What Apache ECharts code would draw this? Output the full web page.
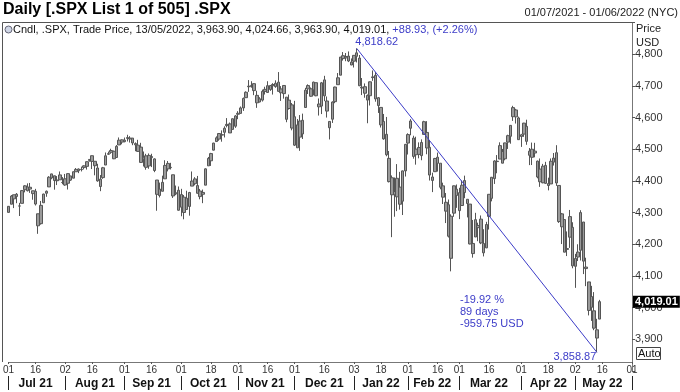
<!DOCTYPE html>
<html><head><meta charset="utf-8">
<script src="https://cdn.jsdelivr.net/npm/echarts@6/dist/echarts.min.js"></script>
<style>html,body{margin:0;padding:0;background:#fff}#c{width:680px;height:392px}</style>
</head><body><div id="c"></div>
<script>
// Trading-day categories (Jul 2021 .. 01 Jun 2022), per month
const monthKeys = ['2021-07','2021-08','2021-09','2021-10','2021-11','2021-12','2022-01','2022-02','2022-03','2022-04','2022-05','2022-06'];
const monthNames = ['Jul 21','Aug 21','Sep 21','Oct 21','Nov 21','Dec 21','Jan 22','Feb 22','Mar 22','Apr 22','May 22',''];
const monthDays = [
 [1,2,6,7,8,9,12,13,14,15,16,19,20,21,22,23,26,27,28,29,30],
 [2,3,4,5,6,9,10,11,12,13,16,17,18,19,20,23,24,25,26,27,30,31],
 [1,2,3,7,8,9,10,13,14,15,16,17,20,21,22,23,24,27,28,29,30],
 [1,4,5,6,7,8,11,12,13,14,15,18,19,20,21,22,25,26,27,28,29],
 [1,2,3,4,5,8,9,10,11,12,15,16,17,18,19,22,23,24,26,29,30],
 [1,2,3,6,7,8,9,10,13,14,15,16,17,20,21,22,23,27,28,29,30,31],
 [3,4,5,6,7,10,11,12,13,14,18,19,20,21,24,25,26,27,28,31],
 [1,2,3,4,7,8,9,10,11,14,15,16,17,18,22,23,24,25,28],
 [1,2,3,4,7,8,9,10,11,14,15,16,17,18,21,22,23,24,25,28,29,30,31],
 [1,4,5,6,7,8,11,12,13,14,18,19,20,21,22,25,26,27,28,29],
 [2,3,4,5,6,9,10,11,12,13,16,17,18,19,20,23,24,25,26,27,31],
 [1]
];
// Day tick labels on the axis
const tickDates = ['2021-07-01','2021-07-16','2021-08-02','2021-08-16','2021-09-01','2021-09-16','2021-10-01','2021-10-18','2021-11-01','2021-11-16','2021-12-01','2021-12-16','2022-01-03','2022-01-18','2022-02-01','2022-02-16','2022-03-01','2022-03-16','2022-04-01','2022-04-18','2022-05-02','2022-05-16','2022-06-01'];
const yTicks = [3900,4000,4100,4200,4300,4400,4500,4600,4700,4800];

// OHLC, 01 Jul 2021 .. 13 May 2022
const openP = [4300.73,4326.60,4356.46,4351.01,4321.07,4329.38,4372.41,4381.07,4380.11,4369.02,4367.43,4296.40,4265.11,4331.13,4361.27,4381.20,4409.58,4416.38,4402.95,4403.59,4395.12,
4406.86,4392.74,4415.95,4408.86,4429.07,4437.77,4435.79,4442.18,4446.08,4464.84,4461.65,4462.12,4440.94,4382.44,4410.56,4450.29,4484.40,4490.45,4493.75,4474.10,4513.76,4529.75,
4528.80,4534.48,4532.42,4535.38,4518.09,4513.02,4506.92,4474.81,4479.33,4447.49,4477.09,4469.74,4402.95,4374.45,4367.43,4406.75,4438.04,4442.12,4419.54,4362.41,4370.67,
4317.16,4348.84,4309.87,4319.57,4383.73,4406.51,4385.44,4368.31,4358.01,4386.75,4447.69,4463.72,4497.34,4524.42,4532.24,4546.12,4553.69,4578.69,4580.22,4562.84,4572.87,
4610.62,4613.34,4630.65,4662.93,4699.26,4701.48,4707.25,4670.26,4659.39,4655.24,4689.30,4679.42,4701.50,4700.72,4708.44,4712.00,4678.48,4675.78,4664.63,4628.75,4640.25,
4602.82,4504.73,4589.49,4548.37,4631.97,4690.86,4691.00,4687.64,4710.30,4642.99,4636.46,4719.13,4652.50,4587.90,4594.96,4650.36,4703.96,4733.99,4795.49,4788.64,4794.23,4775.21,
4778.14,4804.51,4787.99,4693.39,4697.66,4655.34,4669.14,4728.59,4733.56,4637.99,4632.24,4588.03,4547.35,4471.38,4356.32,4366.64,4408.43,4380.58,4336.19,4431.79,
4519.57,4566.39,4535.41,4482.79,4505.75,4480.02,4547.00,4553.24,4506.27,4412.61,4429.28,4455.75,4456.06,4384.57,4332.74,4324.93,4155.77,4298.38,4354.17,
4363.14,4322.56,4401.31,4342.12,4327.01,4202.66,4223.10,4252.55,4279.50,4202.75,4188.82,4288.14,4345.11,4407.34,4462.40,4469.10,4493.10,4469.98,4522.66,4541.09,4602.86,4624.20,4599.02,
4540.32,4547.97,4572.45,4494.17,4474.65,4494.15,4462.64,4437.59,4394.30,4449.12,4385.63,4390.63,4472.26,4489.17,4385.83,4255.34,4278.14,4186.52,4222.58,4253.75,
4130.61,4159.78,4181.18,4270.43,4128.17,4081.27,4035.18,3990.08,3903.95,3963.90];
const highP = [4320.66,4355.43,4356.46,4361.88,4330.88,4371.60,4386.68,4392.37,4393.68,4369.02,4375.09,4296.40,4336.84,4359.70,4369.87,4415.18,4422.73,4416.38,4415.47,4429.97,4412.25,
4422.18,4423.79,4416.17,4429.76,4440.82,4439.39,4445.21,4449.44,4461.77,4468.37,4480.26,4462.12,4454.32,4418.61,4444.35,4489.88,4492.81,4501.71,4495.90,4513.33,4537.36,4531.39,
4537.11,4545.85,4541.45,4535.38,4521.79,4529.90,4520.47,4492.99,4485.68,4486.87,4485.87,4471.52,4402.95,4394.87,4416.75,4465.40,4463.12,4457.30,4419.54,4385.57,4382.55,
4375.19,4355.51,4369.23,4365.57,4429.97,4412.02,4415.88,4374.89,4372.87,4439.73,4475.82,4488.75,4520.40,4540.87,4551.44,4559.67,4572.62,4598.53,4584.57,4597.55,4608.08,
4620.34,4635.15,4663.46,4683.00,4718.50,4714.92,4708.53,4684.85,4664.55,4688.47,4697.42,4714.95,4701.50,4708.80,4717.75,4743.83,4699.39,4702.87,4664.63,4672.95,4646.02,
4652.94,4595.46,4608.03,4612.60,4694.04,4705.06,4695.26,4713.57,4710.30,4660.47,4712.60,4731.99,4666.70,4587.90,4651.14,4697.67,4740.74,4791.49,4807.02,4804.06,4808.93,4786.83,
4796.64,4818.62,4797.70,4725.01,4707.95,4673.02,4714.13,4748.83,4744.13,4665.13,4632.24,4611.55,4602.11,4494.52,4417.35,4411.01,4453.23,4428.74,4432.72,4516.89,
4550.49,4595.31,4542.88,4539.66,4521.86,4531.32,4590.03,4588.92,4526.33,4426.22,4472.77,4489.55,4456.06,4394.60,4362.12,4341.51,4294.73,4385.34,4388.84,
4378.45,4401.48,4416.78,4342.12,4327.01,4276.94,4299.40,4268.28,4291.01,4247.57,4271.05,4357.86,4412.67,4465.40,4481.75,4522.00,4501.07,4520.58,4546.03,4575.65,4637.30,4627.77,4603.07,
4548.70,4583.50,4593.45,4503.94,4521.16,4520.41,4464.35,4471.00,4453.92,4460.46,4410.31,4471.03,4488.29,4512.94,4385.83,4299.02,4278.14,4240.71,4308.45,4269.68,
4169.81,4200.10,4307.66,4270.43,4157.69,4081.27,4068.82,4049.09,3964.80,4024.66];
const lowP = [4300.73,4326.60,4314.37,4329.79,4289.37,4329.38,4364.03,4366.92,4362.36,4340.70,4322.53,4233.13,4262.05,4331.13,4350.06,4381.20,4405.45,4372.51,4387.01,4403.59,4389.65,
4384.81,4373.00,4400.23,4408.86,4429.07,4424.74,4430.03,4436.42,4435.96,4460.82,4437.66,4417.83,4397.59,4367.73,4406.80,4450.29,4482.28,4485.66,4468.99,4474.10,4513.76,4515.80,
4522.02,4524.66,4521.30,4513.00,4493.95,4492.07,4457.66,4445.70,4435.46,4438.37,4443.80,4427.76,4305.91,4347.96,4367.43,4406.75,4430.27,4436.19,4346.33,4355.08,4306.24,
4288.52,4278.94,4309.87,4290.49,4383.73,4386.22,4360.59,4342.09,4329.92,4386.75,4447.69,4447.47,4496.41,4524.40,4526.89,4524.00,4537.36,4569.17,4551.66,4562.84,4567.59,
4595.06,4613.34,4621.19,4662.59,4681.32,4694.39,4670.87,4630.86,4648.31,4650.77,4672.86,4679.42,4684.41,4672.78,4694.22,4682.17,4652.66,4659.89,4585.43,4625.26,4560.00,
4510.27,4504.73,4495.12,4532.46,4631.97,4674.52,4665.98,4670.24,4667.60,4606.52,4611.22,4651.89,4600.22,4531.10,4583.16,4645.53,4703.96,4733.99,4780.04,4778.08,4775.33,4765.75,
4758.17,4774.27,4699.44,4671.26,4662.74,4582.24,4638.27,4716.09,4650.29,4614.75,4568.70,4530.20,4477.95,4395.34,4222.62,4287.11,4304.80,4309.50,4292.46,4414.02,
4483.53,4544.32,4470.39,4451.50,4471.47,4465.40,4547.00,4484.31,4401.41,4364.84,4429.28,4429.68,4373.81,4327.22,4267.11,4221.51,4114.65,4286.83,4315.12,
4279.54,4322.56,4345.56,4284.98,4199.85,4157.87,4223.10,4209.80,4200.49,4161.72,4187.90,4246.66,4335.65,4390.57,4424.30,4469.10,4455.81,4465.17,4501.07,4517.69,4589.66,4581.32,4530.41,
4507.57,4539.21,4514.17,4450.04,4450.30,4474.60,4408.38,4381.34,4392.70,4390.77,4370.30,4390.63,4448.76,4384.47,4267.62,4200.82,4175.04,4162.90,4188.63,4124.28,
4062.51,4147.08,4148.91,4106.01,4067.91,3975.48,3958.17,3928.82,3858.87,3963.90];
const closeP = [4319.94,4352.34,4343.54,4358.13,4320.82,4369.55,4384.63,4369.21,4374.30,4360.03,4327.16,4258.49,4323.06,4358.69,4367.48,4411.79,4422.30,4401.46,4400.64,4419.15,4395.26,
4387.16,4423.15,4402.66,4429.10,4436.52,4432.35,4436.75,4447.70,4460.83,4468.00,4479.71,4448.08,4400.27,4405.80,4441.67,4479.53,4486.23,4496.19,4470.00,4509.37,4528.79,4522.68,
4524.09,4536.95,4535.43,4520.03,4514.07,4493.28,4458.58,4468.73,4443.05,4480.70,4473.75,4432.99,4357.73,4354.19,4395.64,4448.98,4455.48,4443.11,4352.63,4359.46,4307.54,
4357.04,4300.46,4345.72,4363.55,4399.76,4391.34,4361.19,4350.65,4363.80,4438.26,4471.37,4486.46,4519.63,4536.19,4549.78,4544.90,4566.48,4574.79,4551.68,4596.42,4605.38,
4613.67,4630.65,4660.57,4680.06,4697.53,4701.70,4685.25,4646.71,4649.27,4682.85,4682.80,4700.90,4688.67,4704.54,4697.96,4682.94,4690.70,4701.46,4594.62,4655.27,4567.00,
4513.04,4577.10,4538.43,4591.67,4686.75,4701.21,4667.45,4712.02,4668.97,4634.09,4709.85,4668.67,4620.64,4568.02,4649.23,4696.56,4725.79,4791.19,4786.35,4793.06,4778.73,4766.18,
4796.56,4793.54,4700.58,4696.05,4677.03,4670.29,4713.07,4726.35,4659.03,4662.85,4577.11,4532.76,4482.73,4397.94,4410.13,4356.45,4349.93,4326.51,4431.85,4515.55,
4546.54,4589.38,4477.44,4500.53,4483.87,4521.54,4587.18,4504.08,4418.64,4401.67,4471.07,4475.01,4380.26,4348.87,4304.76,4225.50,4288.70,4384.65,4373.94,
4306.26,4386.54,4363.49,4328.87,4201.09,4170.70,4277.88,4259.52,4204.31,4173.11,4262.45,4357.86,4411.67,4463.12,4461.18,4511.61,4456.24,4520.16,4543.06,4575.52,4631.60,4602.45,4530.41,
4545.86,4582.64,4525.12,4481.15,4500.21,4488.28,4412.53,4397.45,4446.59,4392.59,4391.69,4462.21,4459.45,4393.66,4271.78,4296.12,4175.20,4183.96,4287.50,4131.93,
4155.38,4175.48,4300.17,4146.87,4123.34,3991.24,4001.05,3935.18,3930.08,4019.01];

// Trend tool endpoints and stats
const trendStart = {date: '2022-01-04', value: 4818.62};
const trendEnd = {date: '2022-05-12', value: 3858.87};
const statLines = ['-19.92 %', '89 days', '-959.75 USD'];
const lastClose = 4019.01;

// ---------- build ----------
const dates = [];
const monthStartIdx = [];
const monthMidIdx = [];
monthDays.forEach((days, m) => {
  monthStartIdx.push(dates.length);
  monthMidIdx.push(dates.length + Math.floor(days.length / 2));
  days.forEach(d => dates.push(monthKeys[m] + '-' + String(d).padStart(2, '0')));
});
const tickSet = new Set(tickDates.map(d => dates.indexOf(d)));
const startSet = new Set(monthStartIdx);
const midMap = {};
monthMidIdx.forEach((i, m) => { if (monthNames[m]) midMap[i] = monthNames[m]; });

const ohlc = closeP.map((c, i) => [openP[i], c, lowP[i], highP[i]]);
const fmt = v => v.toLocaleString('en-US', {minimumFractionDigits: 2, maximumFractionDigits: 2});
const BLUE = '#3c3cc8';
const FONT = 'Liberation Sans, Arial, sans-serif';

const chart = echarts.init(document.getElementById('c'), null, {renderer: 'canvas'});
chart.setOption({
  animation: false,
  backgroundColor: '#fff',
  textStyle: {fontFamily: FONT},
  grid: {left: 3, right: 48, top: 22.6, bottom: 21, containLabel: false},
  xAxis: [{
    type: 'category', data: dates, boundaryGap: false, offset: -9,
    axisLine: {lineStyle: {color: '#777', width: 1}},
    axisTick: {show: true, length: 2, interval: (i) => tickSet.has(i), lineStyle: {color: '#555'}},
    axisLabel: {interval: (i) => tickSet.has(i), formatter: v => v.slice(8), fontSize: 10, color: '#333', margin: 3, fontFamily: FONT},
    splitLine: {show: false}
  }, {
    type: 'category', data: dates, boundaryGap: false, offset: 5, position: 'bottom',
    axisLine: {show: false},
    axisTick: {show: true, length: 14, interval: (i) => startSet.has(i), lineStyle: {color: '#222', width: 1}},
    axisLabel: {interval: (i) => midMap[i] !== undefined, formatter: (v) => midMap[dates.indexOf(v)] || '', fontSize: 12, fontWeight: 'bold', color: '#111', margin: 2, fontFamily: FONT},
    splitLine: {show: false}
  }],
  yAxis: {
    type: 'value', position: 'right', min: 3800, max: 4900, interval: 100, scale: true,
    axisLine: {show: true, lineStyle: {color: '#777'}},
    axisTick: {show: true, length: 3, lineStyle: {color: '#555'}},
    axisLabel: {formatter: v => (yTicks.indexOf(v) >= 0 ? v.toLocaleString('en-US') : ''), fontSize: 11, color: '#333', margin: 3, fontFamily: FONT},
    splitLine: {show: false}
  },
  series: [{
    type: 'candlestick', data: ohlc, xAxisIndex: 0, barWidth: 3,
    itemStyle: {color: '#9a9a9a', color0: '#9a9a9a', borderColor: '#555', borderColor0: '#555', borderWidth: 1},
    markLine: {
      silent: true, symbol: ['none', 'none'], animation: false,
      data: [
        [{coord: [trendStart.date, trendStart.value]}, {coord: [trendEnd.date, trendEnd.value]}],
        {yAxis: lastClose, lineStyle: {width: 0, color: 'rgba(0,0,0,0)'},
         label: {show: true, position: 'end', distance: 1, formatter: fmt(lastClose), backgroundColor: '#000', color: '#fff', fontWeight: 'bold', fontSize: 11, padding: [1, 2, 0, 2], fontFamily: FONT}}
      ],
      lineStyle: {color: BLUE, width: 1, type: 'solid'},
      label: {show: false}
    },
    markPoint: {
      silent: true, symbol: 'circle', symbolSize: 0,
      data: [
        {coord: [trendStart.date, trendStart.value], label: {show: true, formatter: fmt(trendStart.value), color: BLUE, fontSize: 11, offset: [20, -6], fontFamily: FONT}},
        {coord: [trendEnd.date, trendEnd.value], label: {show: true, formatter: fmt(trendEnd.value), color: BLUE, fontSize: 11, offset: [-22, 5], fontFamily: FONT}}
      ]
    }
  }],
  graphic: [
    {type: 'text', left: 3, top: 2, style: {text: 'Daily [.SPX List 1 of 505] .SPX', font: 'bold 16px ' + FONT, fill: '#000'}},
    {type: 'text', right: 2, top: 7, style: {text: '01/07/2021 - 01/06/2022 (NYC)', font: '11px ' + FONT, fill: '#222'}},
    {type: 'line', shape: {x1: 2.5, y1: 22.5, x2: 632, y2: 22.5}, style: {stroke: '#555', lineWidth: 1}},
    {type: 'line', shape: {x1: 2.5, y1: 22.5, x2: 2.5, y2: 362}, style: {stroke: '#555', lineWidth: 1}},
    {type: 'circle', shape: {cx: 8.5, cy: 29.5, r: 3.5}, style: {fill: '#cfd6e6', stroke: '#667', lineWidth: 1}},
    {type: 'text', left: 13, top: 24, style: {
      text: '{k|Cndl, .SPX, Trade Price, 13/05/2022, 3,963.90, 4,024.66, 3,963.90, 4,019.01, }{b|+88.93, (+2.26%)}',
      rich: {k: {fill: '#111', font: '11px ' + FONT}, b: {fill: BLUE, font: '11px ' + FONT}}}},
    {type: 'text', left: 636, top: 23, style: {text: 'Price', font: '11px ' + FONT, fill: '#222'}},
    {type: 'text', left: 636, top: 37, style: {text: 'USD', font: '11px ' + FONT, fill: '#222'}},
    {type: 'rect', shape: {x: 636.5, y: 347.5, width: 24, height: 12}, style: {fill: '#fff', stroke: '#444', lineWidth: 1}},
    {type: 'text', left: 638, top: 348, style: {text: 'Auto', font: '11px ' + FONT, fill: '#111'}},
    {type: 'text', left: 460, top: 294, style: {text: statLines.join('\n'), font: '11px ' + FONT, fill: BLUE, lineHeight: 12}}
  ]
});
</script></body></html>
